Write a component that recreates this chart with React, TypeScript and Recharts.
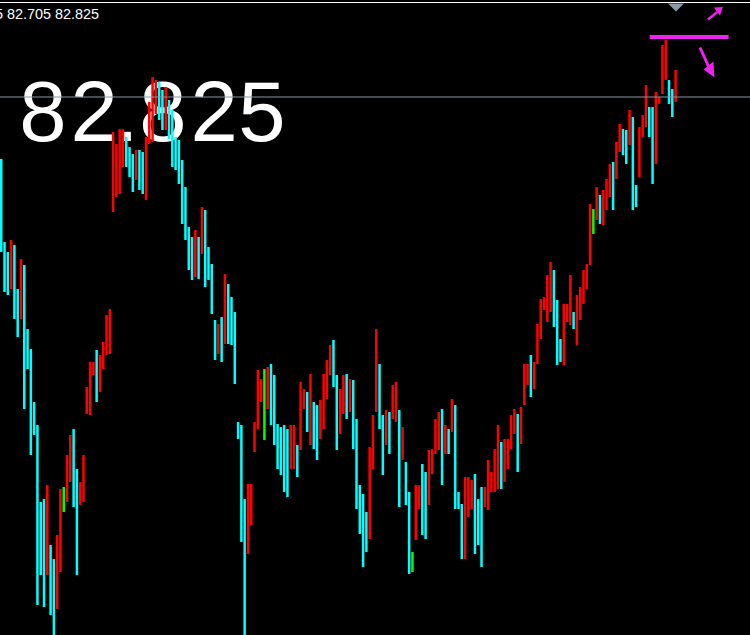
import React from 'react';
import { ComposedChart, Bar, Cell, XAxis, YAxis, ReferenceLine, ReferenceDot } from 'recharts';

// Bar highs / lows (oldest -> newest)
const highs: number[] = [
  82.515, 82.100, 82.050, 82.110, 82.085, 81.865, 82.015, 81.985, 81.665, 81.565,
  81.300, 81.185, 80.800, 80.815, 80.885, 80.585, 80.515, 80.635, 80.865, 80.875,
  81.035, 81.135, 81.165, 80.965, 80.900, 81.035, 81.375, 81.500, 81.500, 81.560,
  81.535, 81.600, 81.735, 81.765,
  82.650, 82.590, 82.665, 82.665, 82.625, 82.575, 82.540, 82.560, 82.560, 82.550,
  82.625, 82.800, 82.925, 82.910, 82.900, 82.860, 82.875, 82.810, 82.760, 82.625,
  82.610, 82.510, 82.375, 82.175, 82.125, 82.160, 82.125, 82.275, 82.260, 82.075,
  81.990, 81.710, 81.690, 81.725, 81.940, 81.890, 81.825,
  81.750, 81.200, 81.185, 80.815, 80.890, 80.890, 81.200, 81.460, 81.415, 81.465,
  81.475, 81.490, 81.435, 81.190, 81.175, 81.185, 81.165, 81.185, 81.185, 81.085,
  81.400, 81.365, 81.350, 81.440, 81.300, 81.285, 81.310, 81.440, 81.510, 81.585,
  81.610, 81.435, 81.365, 81.435, 81.440,
  81.415, 81.410, 81.215, 80.885, 80.840, 80.750, 81.075, 81.235, 81.665, 81.490,
  81.235, 81.260, 81.250, 81.385, 81.400, 81.260, 81.175, 81.000, 80.850, 80.550,
  80.885, 80.885, 80.990, 80.950, 81.060, 81.065, 81.215, 81.250, 81.265, 81.185,
  81.165, 81.315, 81.285, 80.850, 80.790,
  80.925, 80.925, 80.910, 80.940, 80.815, 80.875, 80.875, 81.010, 80.950, 81.065,
  81.185, 81.100, 81.115, 81.115, 81.235, 81.265, 81.240, 81.275, 81.490, 81.490,
  81.535, 81.500, 81.690, 81.815, 81.825, 81.935, 82.000, 81.960, 81.810, 81.615,
  81.790, 81.790, 81.935, 81.750, 81.835,
  81.875, 81.960, 81.990, 82.290, 82.265, 82.375, 82.335, 82.360, 82.415, 82.490,
  82.500, 82.600, 82.690, 82.665, 82.660, 82.760, 82.725, 82.385, 82.675, 82.735,
  82.885, 82.775, 82.775, 82.850, 82.825, 83.085, 83.110, 82.910, 82.865, 82.960,
];

const lows: number[] = [
  82.050, 81.850, 81.835, 81.865, 81.715, 81.625, 81.715, 81.265, 81.465, 81.035,
  81.135, 80.285, 80.435, 80.275, 80.435, 80.235, 80.125, 80.265, 80.450, 80.750,
  80.800, 80.900, 80.775, 80.435, 80.785, 80.800, 81.240, 81.235, 81.435, 81.300,
  81.350, 81.465, 81.535, 81.540,
  82.250, 82.325, 82.340, 82.475, 82.475, 82.425, 82.350, 82.410, 82.360, 82.340,
  82.310, 82.590, 82.600, 82.740, 82.710, 82.660, 82.660, 82.615, 82.475, 82.460,
  82.390, 82.190, 82.110, 81.960, 81.910, 81.925, 81.915, 82.040, 81.875, 81.910,
  81.740, 81.510, 81.540, 81.500, 81.590, 81.590, 81.585,
  81.390, 81.115, 80.600, 80.125, 80.540, 80.685, 81.050, 81.165, 81.300, 81.110,
  81.265, 81.185, 81.085, 80.965, 80.935, 80.850, 80.825, 80.965, 80.965, 80.925,
  81.060, 81.265, 81.150, 81.085, 81.065, 81.010, 81.115, 81.165, 81.315, 81.435,
  81.375, 81.060, 81.140, 81.240, 81.215,
  81.250, 81.065, 80.765, 80.640, 80.475, 80.550, 80.615, 80.965, 81.250, 81.165,
  80.935, 81.085, 81.040, 81.215, 81.200, 80.775, 81.010, 80.785, 80.440, 80.450,
  80.610, 80.765, 80.635, 80.615, 80.785, 80.940, 81.040, 81.060, 80.885, 81.040,
  81.040, 81.150, 80.765, 80.765, 80.515,
  80.515, 80.725, 80.765, 80.540, 80.585, 80.475, 80.775, 80.760, 80.850, 80.850,
  80.865, 80.865, 80.900, 80.965, 81.065, 81.140, 80.950, 81.090, 81.285, 81.385,
  81.325, 81.365, 81.490, 81.615, 81.760, 81.700, 81.750, 81.675, 81.485, 81.500,
  81.485, 81.700, 81.685, 81.665, 81.585,
  81.710, 81.790, 81.865, 81.985, 82.140, 82.210, 82.190, 82.185, 82.260, 82.325,
  82.260, 82.415, 82.550, 82.535, 82.490, 82.585, 82.260, 82.275, 82.425, 82.625,
  82.675, 82.625, 82.390, 82.490, 82.790, 82.840, 82.910, 82.790, 82.725, 82.800,
];

// bars drawn in green (doji-like)
const dojiBars: number[] = [19, 80, 125, 180];

const FUTURE_SLOTS = 22; // empty chart-shift space on the right
const BID = 82.825;
const HIGH_LINE = 83.125;
const Y_MIN = 80.125;
const Y_MAX = 83.3;
const infoText = '5 82.705 82.825';
const bigText = '82.825';

const RED = '#ff0000';
const CYAN = '#00ffff';
const GREEN = '#00ff00';
const MAGENTA = '#ee22ee';

const mids = highs.map((h, i) => (h + lows[i]) / 2);
const table: { i: number; range: number[] | null; color: string }[] = [];
highs.forEach((h, i) => {
  const color = dojiBars.includes(i) ? GREEN : i > 0 && mids[i] >= mids[i - 1] ? RED : CYAN;
  table.push({ i, range: [lows[i], h], color });
});
for (let k = 0; k < FUTURE_SLOTS; k++) {
  table.push({ i: highs.length + k, range: null, color: CYAN });
}
const lastIdx = highs.length - 1;

const ArrowUp = (p: any) => {
  const { cx, cy } = p;
  if (cx == null || cy == null) return null;
  return (
    <g>
      <line x1={cx - 7.5} y1={cy + 6} x2={cx + 2} y2={cy - 1.5} stroke={MAGENTA} strokeWidth={2.5} />
      <polygon points={`${cx - 1.5},${cy - 6} ${cx + 7.5},${cy - 6.5} ${cx + 4.5},${cy + 2}`} fill={MAGENTA} />
    </g>
  );
};

const ArrowDown = (p: any) => {
  const { cx, cy } = p;
  if (cx == null || cy == null) return null;
  return (
    <g>
      <line x1={cx - 5.6} y1={cy - 15} x2={cx + 3.4} y2={cy + 5} stroke={MAGENTA} strokeWidth={3} />
      <polygon points={`${cx - 2.1},${cy + 7} ${cx + 7.9},${cy - 1} ${cx + 8.9},${cy + 15}`} fill={MAGENTA} />
    </g>
  );
};

const ShiftMark = (p: any) => {
  const { cx, cy } = p;
  if (cx == null || cy == null) return null;
  return <polygon points={`${cx - 8},${cy - 4} ${cx + 8},${cy - 4} ${cx},${cy + 4}`} fill="#8a98a8" />;
};

export default function App() {
  return (
    <div style={{ position: 'absolute', left: 0, top: 0, width: 750, height: 635, background: '#000', overflow: 'hidden' }}>
      <svg width={750} height={635} style={{ position: 'absolute', left: 0, top: 0 }}>
        <text
          x="19.3 70.5 115 139.3 190.5 238.2"
          y={141}
          fontFamily="'Liberation Sans', Arial, sans-serif"
          fontSize={85}
          fill="#ffffff"
        >
          {bigText}
        </text>
      </svg>
      <div style={{ position: 'absolute', left: 0, top: 1.5 }}>
        <ComposedChart width={750} height={635} data={table} margin={{ top: 0, right: 0, bottom: 0, left: 0 }}>
          <XAxis dataKey="i" type="category" hide />
          <YAxis hide domain={[Y_MIN, Y_MAX]} allowDataOverflow />
          <ReferenceLine y={BID} stroke="#8898a8" strokeWidth={1} />
          <Bar dataKey="range" barSize={2.5} isAnimationActive={false}>
            {table.map((d) => (
              <Cell key={d.i} fill={d.color} />
            ))}
          </Bar>
          <ReferenceLine
            segment={[{ x: 197, y: HIGH_LINE }, { x: 221, y: HIGH_LINE }]}
            stroke={MAGENTA}
            strokeWidth={4}
            ifOverflow="visible"
          />
          <ReferenceDot x={217} y={83.2425} r={1} ifOverflow="visible" shape={ArrowUp} />
          <ReferenceDot x={214} y={82.9975} r={1} ifOverflow="visible" shape={ArrowDown} />
          <ReferenceDot x={lastIdx} y={83.2725} r={1} ifOverflow="visible" shape={ShiftMark} />
        </ComposedChart>
      </div>
      <svg width={750} height={635} style={{ position: 'absolute', left: 0, top: 0, pointerEvents: 'none' }}>
        <rect x={0} y={2} width={750} height={1} fill="#ffffff" />
        <text x={-5} y={19} fontFamily="'Liberation Sans', Arial, sans-serif" fontSize={14.4} fill="#ffffff">
          {infoText}
        </text>
      </svg>
    </div>
  );
}
